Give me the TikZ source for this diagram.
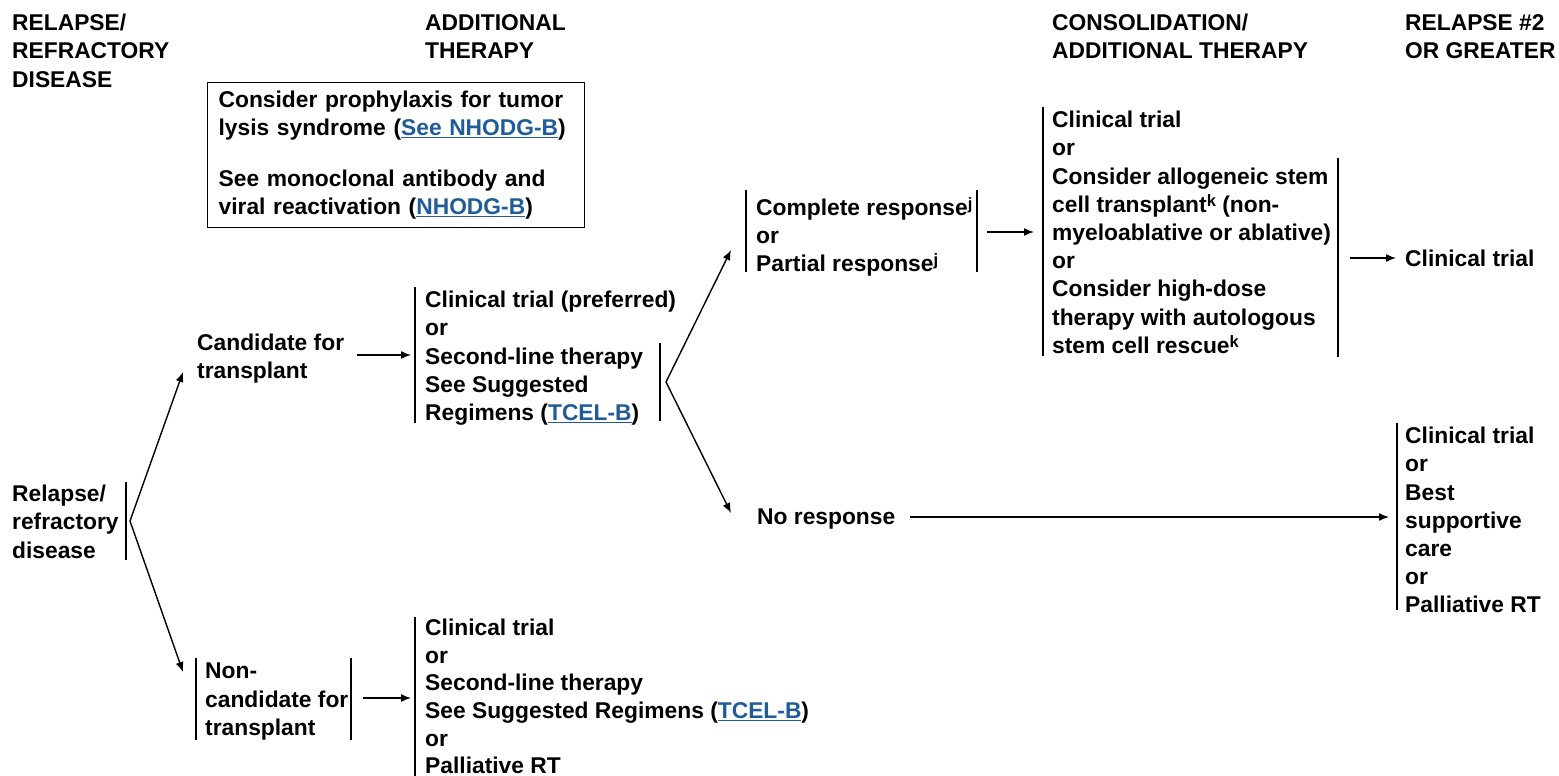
\documentclass[tikz,border=0pt]{standalone}
\usepackage{fontspec}
\setmainfont{Liberation Sans}
\usetikzlibrary{arrows.meta}
\definecolor{linkblue}{HTML}{1F5C99}
\newcommand{\lnk}[1]{{\color{linkblue}\underline{#1}}}
\newcommand{\sups}[1]{\raisebox{6pt}{\fontsize{16.5}{16.5}\selectfont #1}}
\begin{document}
\begin{tikzpicture}[x=1pt,y=-1pt,
  txt/.style={font=\fontsize{22.8}{28.2}\selectfont\bfseries, align=left, inner sep=0pt, anchor=north west},
  bar/.style={line width=1.3pt},
  arr/.style={line width=1.4pt, -{Latex[length=10pt,width=8pt]}}]
\useasboundingbox (0,0) rectangle (1559,776);
% headers
\node[txt] (h1) at (12,14) {RELAPSE/\\REFRACTORY\\DISEASE};
\node[txt] (h2) at (425,14) {ADDITIONAL\\THERAPY};
\node[txt] (h3) at (1052,14) {CONSOLIDATION/\\ADDITIONAL THERAPY};
\node[txt] (h4) at (1405,14) {RELAPSE \#2\\OR GREATER};
% note box
\node[txt, draw, line width=1.3pt, inner xsep=11pt, inner ysep=8pt, text width=355pt] (note) at (207,82)
 {Consider prophylaxis for tumor\\lysis syndrome (\lnk{See NHODG-B})\\[23pt]See monoclonal antibody and\\viral reactivation (\lnk{NHODG-B})};
% relapse
\node[txt] (rel) at (12,485) {Relapse/\\refractory\\disease};
\draw[bar] (126,482) -- (126,560);
\coordinate (relb) at (130,521);
\coordinate (candin) at (183,372);
\coordinate (ncin) at (183,672);
\draw[arr] (relb) -- (candin);
\draw[arr] (relb) -- (ncin);
% candidate
\node[txt] (cand) at (197,334) {Candidate for\\transplant};
\coordinate (candout) at (357,355);
\coordinate (ct1in) at (411,355);
\draw[arr] (candout) -- (ct1in);
\node[txt] (ct1) at (425,291) {Clinical trial (preferred)\\or\\Second-line therapy\\See Suggested\\Regimens (\lnk{TCEL-B})};
\draw[bar] (415,287) -- (415,423);
\draw[bar] (660,343) -- (660,421);
\coordinate (ct1b) at (666,382);
\coordinate (crin) at (731,250);
\coordinate (nrin) at (731,513);
\draw[arr] (ct1b) -- (crin);
\draw[arr] (ct1b) -- (nrin);
% complete response
\node[txt] (cr) at (756,197) {Complete response\sups{j}\\or\\Partial response\sups{j}};
\draw[bar] (746,190) -- (746,272);
\draw[bar] (977,190) -- (977,272);
\coordinate (crout) at (987,232);
\coordinate (consin) at (1034,232);
\draw[arr] (crout) -- (consin);
% consolidation
\node[txt] (cons) at (1052,111) {Clinical trial\\or\\Consider allogeneic stem\\cell transplant\sups{k} (non-\\myeloablative or ablative)\\or\\Consider high-dose\\therapy with autologous\\stem cell rescue\sups{k}};
\draw[bar] (1043,107) -- (1043,356);
\draw[bar] (1338,158) -- (1338,357);
\coordinate (consout) at (1350,258);
\coordinate (ct3in) at (1396,258);
\draw[arr] (consout) -- (ct3in);
\node[txt] (ct3) at (1405,250) {Clinical trial};
% no response
\node[txt] (nr) at (757,509) {No response};
\coordinate (nrout) at (910,517);
\coordinate (bscin) at (1389,517);
\draw[arr] (nrout) -- (bscin);
\node[txt] (bsc) at (1405,427) {Clinical trial\\or\\Best\\supportive\\care\\or\\Palliative RT};
\draw[bar] (1397,423) -- (1397,610);
% non-candidate
\node[txt] (nc) at (205,663) {Non-\\candidate for\\transplant};
\draw[bar] (196,658) -- (196,740);
\draw[bar] (351,658) -- (351,740);
\coordinate (ncout) at (363,698);
\coordinate (ct2in) at (411,698);
\draw[arr] (ncout) -- (ct2in);
\node[txt, font=\fontsize{22.8}{27.6}\selectfont\bfseries] (ct2) at (425,619) {Clinical trial\\or\\Second-line therapy\\See Suggested Regimens (\lnk{TCEL-B})\\or\\Palliative RT};
\draw[bar] (415,617) -- (415,776);
\end{tikzpicture}
\end{document}
